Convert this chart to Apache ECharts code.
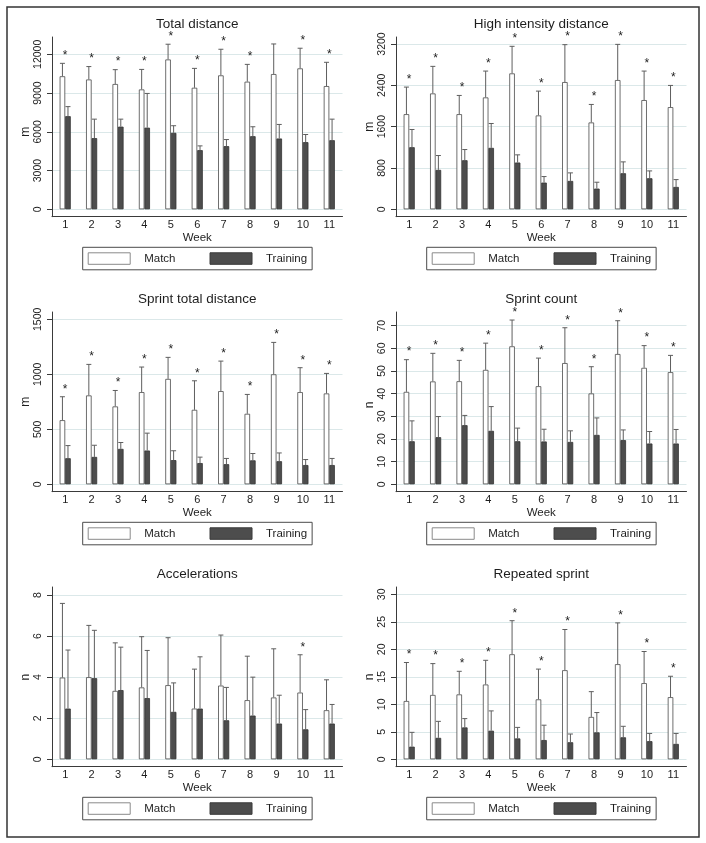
<!DOCTYPE html>
<html><head><meta charset="utf-8">
<script src="https://cdn.jsdelivr.net/npm/echarts@6/dist/echarts.min.js"></script>
<style>html,body{margin:0;padding:0;background:#fff}#c{width:706px;height:843px}</style>
</head><body><div id="c"></div>
<script>
// ---------- DATA ----------
const weeks = ['1','2','3','4','5','6','7','8','9','10','11'];
const titles = ['Total distance','High intensity distance','Sprint total distance','Sprint count','Accelerations','Repeated sprint'];
const yNames = ['m','m','m','n','n','n'];
const yMax = [12000, 3200, 1500, 70, 8, 30];
const yStep = [3000, 800, 500, 10, 2, 5];
const legendNames = ['Match', 'Training'];

// Total distance (m)
const totalMatch   = [10300, 10050, 9700, 9280, 11600, 9410, 10370, 9880, 10470, 10910, 9540];
const totalMatchSD = [1000, 1000, 1110, 1550, 1180, 1500, 2020, 1340, 2330, 1560, 1840];
const totalTrain   = [7210, 5510, 6400, 6320, 5920, 4580, 4890, 5660, 5480, 5200, 5350];
const totalTrainSD = [740, 1470, 580, 2650, 550, 330, 510, 730, 1090, 590, 1630];
const totalStar    = [1,1,1,1,1,1,1,1,0,1,1];

// High intensity distance (m)
const hidMatch   = [1842, 2243, 1842, 2166, 2631, 1817, 2463, 1681, 2502, 2114, 1978];
const hidMatchSD = [524, 524, 362, 510, 524, 471, 724, 349, 691, 562, 420];
const hidTrain   = [1202, 763, 950, 1189, 905, 517, 549, 401, 698, 601, 433];
const hidTrainSD = [343, 278, 207, 472, 149, 117, 156, 123, 220, 142, 142];
const hidStar    = [1,1,1,1,1,1,1,1,1,1,1];

// Sprint total distance (m)
const stdMatch   = [583, 808, 708, 838, 958, 677, 847, 641, 1000, 838, 826];
const stdMatchSD = [213, 282, 145, 228, 196, 264, 273, 176, 290, 222, 182];
const stdTrain   = [237, 249, 322, 307, 220, 193, 183, 218, 210, 175, 175];
const stdTrainSD = [115, 106, 58, 158, 85, 54, 52, 62, 75, 50, 60];
const stdStar    = [1,1,1,1,1,1,1,1,1,1,1];

// Sprint count (n)
const scMatch   = [40.8, 45.4, 45.5, 50.5, 60.9, 43.3, 53.5, 40.1, 57.5, 51.4, 49.5];
const scMatchSD = [14.2, 12.4, 9.2, 11.8, 11.6, 12.4, 15.6, 11.8, 14.7, 9.8, 7.4];
const scTrain   = [19.0, 20.8, 26.1, 23.6, 19.0, 18.9, 18.7, 21.8, 19.5, 18.0, 18.0];
const scTrainSD = [9.0, 9.1, 4.3, 10.7, 5.8, 5.4, 4.9, 7.5, 4.5, 5.3, 6.2];
const scStar    = [1,1,1,1,1,1,1,1,1,1,1];

// Accelerations (n)
const accMatch   = [3.98, 4.0, 3.33, 3.50, 3.61, 2.47, 3.59, 2.88, 3.01, 3.25, 2.39];
const accMatchSD = [3.61, 2.52, 2.34, 2.47, 2.31, 1.92, 2.46, 2.14, 2.37, 1.84, 1.48];
const accTrain   = [2.47, 3.95, 3.37, 2.98, 2.31, 2.47, 1.90, 2.13, 1.74, 1.46, 1.74];
const accTrainSD = [2.85, 2.33, 2.09, 2.32, 1.41, 2.52, 1.60, 1.87, 1.38, 0.96, 0.93];
const accStar    = [0,0,0,0,0,0,0,0,0,1,0];

// Repeated sprint (n)
const rsMatch   = [10.6, 11.7, 11.8, 13.6, 19.1, 10.9, 16.2, 7.7, 17.3, 13.85, 11.3];
const rsMatchSD = [7.0, 5.7, 4.2, 4.4, 6.1, 5.5, 7.4, 4.6, 7.5, 5.75, 3.8];
const rsTrain   = [2.3, 3.9, 5.8, 5.2, 3.8, 3.5, 3.1, 4.9, 4.0, 3.3, 2.8];
const rsTrainSD = [2.6, 3.0, 1.6, 3.6, 2.0, 2.7, 1.5, 3.6, 2.0, 1.4, 1.9];
const rsStar    = [1,1,1,1,1,1,1,0,1,1,1];

const panelData = [
  [totalMatch, totalMatchSD, totalTrain, totalTrainSD, totalStar],
  [hidMatch, hidMatchSD, hidTrain, hidTrainSD, hidStar],
  [stdMatch, stdMatchSD, stdTrain, stdTrainSD, stdStar],
  [scMatch, scMatchSD, scTrain, scTrainSD, scStar],
  [accMatch, accMatchSD, accTrain, accTrainSD, accStar],
  [rsMatch, rsMatchSD, rsTrain, rsTrainSD, rsStar]
];

// ---------- LAYOUT ----------
const FONT = 'Liberation Sans, Arial, sans-serif';
const colX = [0, 344];
const rowY = [0, 275, 550];
const plotTop = [54.3, 44, 44.3, 50.7, 45, 44.3];
const zeroY = 209.3, axisBottom = 216.7, axisTop = 37, gridLeft = 52, gridW = 290.5;
const BAR_FRAC = 0.21;
const txt = '#1e1e1e', axisCol = '#3a3a3a', gridCol = '#dbe8e9';

const grid = [], xAxis = [], yAxis = [], series = [], title = [], legend = [];

function errRender(side) {
  return function (params, api) {
    const i = api.value(0), m = api.value(1), sd = api.value(2);
    const base = api.coord([i, m]);
    const top = api.coord([i, m + sd]);
    const cw = api.size([1, 0])[0];
    const bw = cw * BAR_FRAC;
    const x = base[0] + side * bw / 2;
    const cap = bw * 0.9;
    return { type: 'group', children: [
      { type: 'line', shape: { x1: x, y1: base[1], x2: x, y2: top[1] }, style: { stroke: '#5e5e5e', lineWidth: 1 } },
      { type: 'line', shape: { x1: x - cap / 2, y1: top[1], x2: x + cap / 2, y2: top[1] }, style: { stroke: '#5e5e5e', lineWidth: 1 } }
    ]};
  };
}
function starRender(params, api) {
  const p = api.coord([api.value(0), api.value(1)]);
  return { type: 'text', x: p[0], y: p[1] - 7.5,
    style: { text: '*', fontSize: 12, fontFamily: FONT, fill: txt, align: 'center', verticalAlign: 'middle' } };
}

for (let k = 0; k < 6; k++) {
  const col = k % 2, row = Math.floor(k / 2);
  const ox = colX[col], oy = rowY[row];
  const [mv, msd, tv, tsd, st] = panelData[k];
  const g = grid.length;
  grid.push({ left: ox + gridLeft, width: gridW, top: oy + plotTop[k], height: zeroY - plotTop[k] });
  grid.push({ left: ox + gridLeft, width: gridW, top: oy + axisTop, height: axisBottom - axisTop });

  xAxis.push({ type: 'category', gridIndex: g, data: weeks,
    axisLine: { show: false }, axisTick: { show: false },
    axisLabel: { margin: (axisBottom - zeroY) + 3, fontSize: 11, color: txt, fontFamily: FONT },
    name: 'Week', nameLocation: 'middle', nameGap: (axisBottom - zeroY) + 12.5,
    nameTextStyle: { fontSize: 11.5, color: txt, fontFamily: FONT } });
  xAxis.push({ type: 'category', gridIndex: g + 1, data: weeks,
    axisLine: { show: true, onZero: false, lineStyle: { color: axisCol, width: 1 } },
    axisTick: { show: false }, axisLabel: { show: false } });

  yAxis.push({ type: 'value', gridIndex: g, min: 0, max: yMax[k], interval: yStep[k],
    axisLine: { show: false },
    axisTick: { show: true, length: 5, lineStyle: { color: axisCol } },
    axisLabel: { rotate: 90, margin: 8, fontSize: 10.5, color: txt, fontFamily: FONT,
      formatter: v => String(v) },
    splitLine: { show: true, lineStyle: { color: gridCol, width: 1 } },
    name: yNames[k], nameLocation: 'middle', nameGap: 19,
    nameTextStyle: { fontSize: 12, color: txt, fontFamily: FONT } });
  yAxis.push({ type: 'value', gridIndex: g + 1, min: 0, max: 1,
    axisLine: { show: true, lineStyle: { color: axisCol, width: 1 } },
    axisTick: { show: false }, axisLabel: { show: false }, splitLine: { show: false } });

  series.push({ name: 'Match', type: 'bar', xAxisIndex: g, yAxisIndex: g, data: mv,
    barWidth: (BAR_FRAC * 100) + '%', barGap: '0%',
    itemStyle: { color: '#ffffff', borderColor: '#4a4a4a', borderWidth: 0.8 } });
  series.push({ name: 'Training', type: 'bar', xAxisIndex: g, yAxisIndex: g, data: tv,
    barWidth: (BAR_FRAC * 100) + '%', barGap: '0%',
    itemStyle: { color: '#4d4d4d', borderColor: '#333333', borderWidth: 0.8 } });
  series.push({ type: 'custom', xAxisIndex: g, yAxisIndex: g, clip: false, z: 3,
    renderItem: errRender(-1), data: mv.map((v, i) => [i, v, msd[i]]) });
  series.push({ type: 'custom', xAxisIndex: g, yAxisIndex: g, clip: false, z: 3,
    renderItem: errRender(1), data: tv.map((v, i) => [i, v, tsd[i]]) });
  series.push({ type: 'custom', xAxisIndex: g, yAxisIndex: g, clip: false, z: 3,
    renderItem: starRender,
    data: mv.map((v, i) => [i, v + msd[i], st[i]]).filter(d => d[2]) });

  title.push({ text: titles[k], left: ox + gridLeft + gridW / 2, top: oy + 25 - 8, textAlign: 'center', padding: 0,
    textStyle: { fontSize: 13.5, fontWeight: 'normal', color: txt, fontFamily: FONT } });

  legend.push({
    data: [
      { name: legendNames[0], itemStyle: { color: '#ffffff', borderColor: '#8a8a8a', borderWidth: 1 } },
      { name: legendNames[1], itemStyle: { color: '#4d4d4d', borderColor: '#3a3a3a', borderWidth: 1 } }
    ],
    left: ox + 82.7, top: oy + 247.3, orient: 'horizontal',
    icon: 'rect', itemWidth: 42, itemHeight: 11.5, itemGap: 34, padding: [5, 5, 5, 5],
    borderColor: '#4a4a4a', borderWidth: 1, selectedMode: false,
    textStyle: { fontSize: 11.5, color: txt, fontFamily: FONT, padding: [0, 0, 0, 9] } });
}

const chart = echarts.init(document.getElementById('c'), null, { renderer: 'canvas' });
chart.setOption({
  backgroundColor: '#ffffff',
  animation: false,
  title, legend, grid, xAxis, yAxis, series,
  graphic: [{ type: 'rect', shape: { x: 7, y: 7, width: 692, height: 830 },
    style: { fill: 'none', stroke: '#333', lineWidth: 1.5 }, silent: true }]
});
</script></body></html>
